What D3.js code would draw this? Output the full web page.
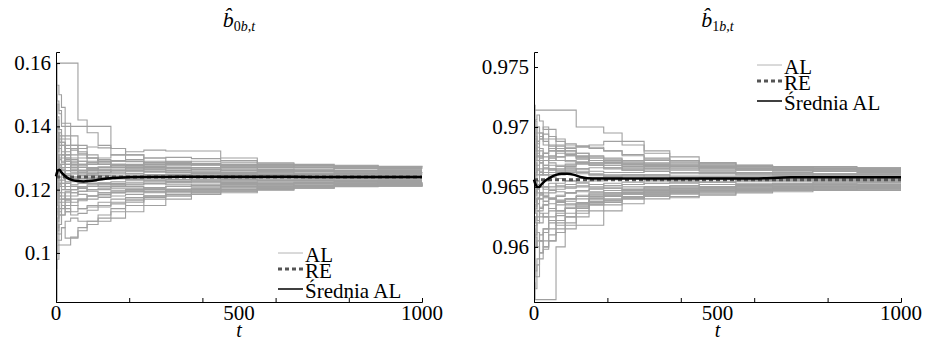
<!DOCTYPE html>
<html>
<head>
<meta charset="utf-8">
<script src="https://cdn.jsdelivr.net/npm/d3@7"></script>
<style>
  body { margin: 0; background: #fff; }
</style>
</head>
<body>
<div class="visHolder"></div>
<script>
var tSteps = [0, 3, 8, 15, 25, 40, 60, 85, 115, 150, 190, 240, 300, 370, 450, 550, 650, 760, 880, 1000];
// time points of the AL average
var tMean = [0, 3, 6, 10, 14, 20, 30, 45, 60, 75, 90, 110, 130, 160, 200, 300, 400, 500, 600, 700, 800, 900, 1000];

var xTicks = [0, 200, 400, 600, 800, 1000];
var xTickLabels = [0, 500, 1000];
var legendLabels = ['AL', 'RE', 'Średnia AL'];

// ---- b0 panel ----
var b0Ticks = [0.1, 0.12, 0.14, 0.16];
var b0TickLabels = ['0.1', '0.12', '0.14', '0.16'];
var b0Domain = [0.0845, 0.1635];
var b0RE = 0.1240;
var b0Mean = [0.1242, 0.1255, 0.1262, 0.1263, 0.1256, 0.1248, 0.1238, 0.1230, 0.1227, 0.1226, 0.1227, 0.1230, 0.1234, 0.1237, 0.1239, 0.1240, 0.1241, 0.1241, 0.1241, 0.1240, 0.1240, 0.1240, 0.1240];
var b0Paths = [
  [0.135, 0.160, 0.160, 0.160, 0.160, 0.160, 0.142, 0.138, 0.134, 0.131, 0.129, 0.128, 0.127, 0.127, 0.126, 0.126, 0.1265, 0.126, 0.1262, 0.1262],
  [0.153, 0.153, 0.150, 0.146, 0.141, 0.137, 0.134, 0.131, 0.129, 0.128, 0.127, 0.1265, 0.126, 0.1258, 0.1255, 0.1255, 0.125, 0.1252, 0.125, 0.1251],
  [0.150, 0.148, 0.144, 0.140, 0.140, 0.140, 0.140, 0.140, 0.140, 0.133, 0.131, 0.130, 0.129, 0.128, 0.127, 0.1265, 0.126, 0.1262, 0.126, 0.126],
  [0.145, 0.140, 0.137, 0.135, 0.133, 0.131, 0.130, 0.129, 0.130, 0.131, 0.132, 0.1325, 0.1322, 0.1322, 0.130, 0.128, 0.1275, 0.1272, 0.127, 0.1272],
  [0.140, 0.138, 0.136, 0.134, 0.132, 0.130, 0.129, 0.128, 0.128, 0.127, 0.1275, 0.1285, 0.1285, 0.1283, 0.128, 0.1275, 0.127, 0.1268, 0.1265, 0.1265],
  [0.138, 0.142, 0.139, 0.135, 0.131, 0.128, 0.127, 0.126, 0.1262, 0.1265, 0.127, 0.1275, 0.127, 0.1265, 0.1262, 0.126, 0.1258, 0.1256, 0.1255, 0.1255],
  [0.132, 0.136, 0.134, 0.131, 0.129, 0.127, 0.126, 0.1255, 0.125, 0.125, 0.1252, 0.1255, 0.1253, 0.125, 0.125, 0.1248, 0.1248, 0.1246, 0.1245, 0.1245],
  [0.130, 0.128, 0.131, 0.129, 0.127, 0.126, 0.125, 0.1245, 0.1245, 0.1243, 0.1245, 0.1247, 0.1245, 0.1243, 0.1243, 0.1242, 0.1242, 0.1241, 0.1241, 0.1241],
  [0.126, 0.129, 0.127, 0.1265, 0.125, 0.124, 0.1235, 0.1237, 0.124, 0.1242, 0.124, 0.1238, 0.1238, 0.1237, 0.1237, 0.1238, 0.1237, 0.1237, 0.1237, 0.1237],
  [0.122, 0.125, 0.128, 0.126, 0.124, 0.123, 0.1225, 0.123, 0.1232, 0.1235, 0.1233, 0.123, 0.1232, 0.1233, 0.1235, 0.1234, 0.1233, 0.1234, 0.1233, 0.1233],
  [0.118, 0.121, 0.124, 0.122, 0.121, 0.1215, 0.122, 0.122, 0.1222, 0.1225, 0.1228, 0.1225, 0.1226, 0.1227, 0.1228, 0.1229, 0.1229, 0.123, 0.123, 0.123],
  [0.115, 0.117, 0.119, 0.121, 0.120, 0.119, 0.1195, 0.120, 0.1205, 0.121, 0.1215, 0.122, 0.1222, 0.1222, 0.1223, 0.1225, 0.1225, 0.1226, 0.1226, 0.1226],
  [0.112, 0.114, 0.116, 0.115, 0.116, 0.117, 0.117, 0.118, 0.118, 0.119, 0.120, 0.1205, 0.121, 0.1212, 0.1215, 0.122, 0.1218, 0.122, 0.122, 0.1222],
  [0.108, 0.111, 0.113, 0.115, 0.114, 0.113, 0.114, 0.115, 0.116, 0.117, 0.1175, 0.118, 0.119, 0.1195, 0.120, 0.1205, 0.121, 0.1212, 0.1215, 0.1216],
  [0.105, 0.104, 0.106, 0.108, 0.110, 0.111, 0.110, 0.110, 0.111, 0.113, 0.115, 0.117, 0.118, 0.119, 0.120, 0.1205, 0.121, 0.1212, 0.1215, 0.1218],
  [0.100, 0.1025, 0.1025, 0.1025, 0.1025, 0.105, 0.107, 0.109, 0.110, 0.111, 0.113, 0.115, 0.117, 0.1185, 0.1195, 0.1205, 0.1212, 0.1215, 0.1218, 0.122],
  [0.085, 0.098, 0.104, 0.108, 0.1047, 0.1047, 0.108, 0.110, 0.112, 0.114, 0.116, 0.118, 0.1195, 0.120, 0.121, 0.1215, 0.122, 0.1222, 0.1223, 0.1224],
  [0.095, 0.108, 0.112, 0.117, 0.119, 0.120, 0.1205, 0.121, 0.121, 0.1205, 0.1205, 0.1207, 0.121, 0.1213, 0.1215, 0.1218, 0.122, 0.1222, 0.1225, 0.1225],
  [0.128, 0.132, 0.135, 0.137, 0.136, 0.134, 0.132, 0.130, 0.129, 0.128, 0.1275, 0.127, 0.1268, 0.1265, 0.1262, 0.126, 0.1258, 0.1258, 0.1257, 0.1257],
  [0.124, 0.121, 0.118, 0.116, 0.118, 0.120, 0.121, 0.1215, 0.122, 0.1215, 0.121, 0.1205, 0.121, 0.1212, 0.1215, 0.1215, 0.1212, 0.1215, 0.1217, 0.1217],
  [0.135, 0.131, 0.128, 0.125, 0.127, 0.129, 0.128, 0.1285, 0.129, 0.1292, 0.129, 0.1285, 0.128, 0.1278, 0.1275, 0.1272, 0.127, 0.1268, 0.1268, 0.1268],
  [0.120, 0.123, 0.121, 0.119, 0.117, 0.115, 0.114, 0.1145, 0.115, 0.116, 0.117, 0.118, 0.1185, 0.119, 0.1195, 0.120, 0.1205, 0.121, 0.1212, 0.1214],
  [0.142, 0.147, 0.145, 0.141, 0.137, 0.134, 0.133, 0.1335, 0.1332, 0.133, 0.131, 0.129, 0.1285, 0.128, 0.1275, 0.127, 0.127, 0.1268, 0.1266, 0.1266],
  [0.110, 0.113, 0.118, 0.120, 0.122, 0.123, 0.124, 0.125, 0.1255, 0.126, 0.126, 0.1258, 0.1255, 0.1253, 0.125, 0.125, 0.1248, 0.1247, 0.1247, 0.1247],
  [0.127, 0.124, 0.126, 0.128, 0.130, 0.1295, 0.128, 0.127, 0.1265, 0.126, 0.1258, 0.1258, 0.126, 0.1262, 0.126, 0.1258, 0.1256, 0.1255, 0.1254, 0.1253],
  [0.117, 0.119, 0.122, 0.124, 0.1225, 0.121, 0.1205, 0.1195, 0.119, 0.119, 0.1193, 0.1195, 0.120, 0.1205, 0.121, 0.1212, 0.1215, 0.1217, 0.1218, 0.122],
  [0.132, 0.126, 0.123, 0.121, 0.122, 0.124, 0.1255, 0.126, 0.127, 0.1275, 0.1278, 0.128, 0.1282, 0.128, 0.1278, 0.1275, 0.1272, 0.1272, 0.127, 0.127],
  [0.103, 0.107, 0.109, 0.112, 0.113, 0.115, 0.117, 0.118, 0.119, 0.1195, 0.1198, 0.120, 0.1202, 0.1205, 0.1208, 0.121, 0.1212, 0.1214, 0.1216, 0.1218],
  [0.129, 0.127, 0.1295, 0.131, 0.129, 0.1275, 0.127, 0.1265, 0.126, 0.1255, 0.125, 0.1248, 0.1246, 0.1245, 0.1246, 0.1245, 0.1244, 0.1244, 0.1243, 0.1243],
  [0.121, 0.119, 0.1215, 0.123, 0.1245, 0.1235, 0.1225, 0.122, 0.1218, 0.1215, 0.1218, 0.122, 0.1222, 0.1225, 0.1227, 0.1228, 0.1228, 0.1229, 0.1229, 0.1229],
  [0.137, 0.133, 0.130, 0.1285, 0.131, 0.133, 0.1315, 0.130, 0.1295, 0.129, 0.1288, 0.1285, 0.1283, 0.1282, 0.128, 0.1278, 0.1276, 0.1274, 0.1273, 0.1273],
  [0.113, 0.116, 0.119, 0.118, 0.1195, 0.121, 0.1205, 0.121, 0.1215, 0.122, 0.1222, 0.1218, 0.1215, 0.1217, 0.122, 0.1222, 0.1223, 0.1224, 0.1224, 0.1224],
  [0.147, 0.143, 0.139, 0.136, 0.134, 0.1325, 0.131, 0.130, 0.128, 0.127, 0.126, 0.1258, 0.1256, 0.1255, 0.1254, 0.1253, 0.1252, 0.1251, 0.1251, 0.1251],
  [0.125, 0.127, 0.124, 0.122, 0.1235, 0.125, 0.126, 0.1268, 0.1272, 0.127, 0.1266, 0.1263, 0.1262, 0.1264, 0.1266, 0.1264, 0.1262, 0.126, 0.1259, 0.1259],
  [0.107, 0.110, 0.114, 0.117, 0.1165, 0.116, 0.1165, 0.117, 0.1175, 0.118, 0.1185, 0.119, 0.1195, 0.1198, 0.120, 0.1205, 0.1208, 0.121, 0.1212, 0.1213],
  [0.131, 0.135, 0.138, 0.134, 0.130, 0.127, 0.1255, 0.125, 0.1255, 0.126, 0.1265, 0.1268, 0.1266, 0.1263, 0.126, 0.1258, 0.1257, 0.1256, 0.1256, 0.1256],
  [0.119, 0.115, 0.112, 0.114, 0.117, 0.119, 0.1185, 0.118, 0.1185, 0.119, 0.1195, 0.120, 0.1198, 0.1195, 0.1198, 0.1202, 0.1206, 0.1209, 0.1211, 0.1212],
  [0.139, 0.136, 0.133, 0.130, 0.128, 0.1265, 0.1262, 0.1265, 0.127, 0.1275, 0.128, 0.1285, 0.1288, 0.129, 0.1287, 0.1282, 0.1278, 0.1275, 0.1273, 0.1272],
  [0.123, 0.120, 0.122, 0.1245, 0.126, 0.1255, 0.1245, 0.124, 0.1238, 0.124, 0.1243, 0.1245, 0.1248, 0.125, 0.1249, 0.1248, 0.1247, 0.1246, 0.1246, 0.1246],
  [0.116, 0.120, 0.117, 0.115, 0.113, 0.112, 0.1125, 0.1135, 0.1145, 0.1155, 0.1165, 0.1175, 0.118, 0.1185, 0.119, 0.1198, 0.1205, 0.121, 0.1213, 0.1215],
  [0.144, 0.138, 0.135, 0.132, 0.1295, 0.128, 0.1275, 0.128, 0.1285, 0.129, 0.1295, 0.130, 0.1302, 0.1298, 0.1292, 0.1285, 0.128, 0.1277, 0.1274, 0.1272],
  [0.127, 0.130, 0.1275, 0.125, 0.1235, 0.1225, 0.123, 0.1235, 0.1238, 0.1235, 0.1232, 0.123, 0.1228, 0.123, 0.1232, 0.1233, 0.1234, 0.1235, 0.1235, 0.1235],
  [0.111, 0.106, 0.109, 0.112, 0.115, 0.118, 0.1195, 0.120, 0.120, 0.1198, 0.1195, 0.1193, 0.1195, 0.120, 0.1205, 0.1208, 0.121, 0.1212, 0.1214, 0.1215],
  [0.134, 0.129, 0.126, 0.127, 0.128, 0.1285, 0.129, 0.1285, 0.128, 0.1278, 0.1275, 0.1273, 0.1275, 0.1277, 0.1274, 0.1271, 0.1269, 0.1267, 0.1266, 0.1265]
];

// ---- b1 panel ----
var b1Ticks = [0.96, 0.965, 0.97, 0.975];
var b1TickLabels = ['0.96', '0.965', '0.97', '0.975'];
var b1Domain = [0.9554, 0.97625];
var b1RE = 0.9656;
var b1Mean = [0.9656, 0.9653, 0.9651, 0.9650, 0.9650, 0.9652, 0.9655, 0.9658, 0.9660, 0.9661, 0.9661, 0.9660, 0.9658, 0.9657, 0.9657, 0.9657, 0.9657, 0.9657, 0.9657, 0.9658, 0.9658, 0.9658, 0.9658];
var b1Paths = [
  [0.9600, 0.9556, 0.9556, 0.9556, 0.9556, 0.9556, 0.9600, 0.9615, 0.9625, 0.9630, 0.9635, 0.9640, 0.9643, 0.9645, 0.9647, 0.9648, 0.9649, 0.9650, 0.9650, 0.9650],
  [0.9718, 0.9705, 0.9700, 0.9695, 0.9690, 0.9685, 0.9680, 0.9678, 0.9675, 0.9672, 0.9670, 0.9668, 0.9667, 0.9666, 0.9665, 0.9664, 0.9664, 0.9663, 0.9663, 0.9663],
  [0.9714, 0.9714, 0.9714, 0.9714, 0.9714, 0.9714, 0.9714, 0.9714, 0.9700, 0.9700, 0.9695, 0.9688, 0.9680, 0.9675, 0.9670, 0.9668, 0.9666, 0.9665, 0.9665, 0.9665],
  [0.9690, 0.9700, 0.9695, 0.9690, 0.9700, 0.9698, 0.9690, 0.9685, 0.9683, 0.9685, 0.9688, 0.9685, 0.9678, 0.9672, 0.9670, 0.9668, 0.9667, 0.9667, 0.9666, 0.9666],
  [0.9680, 0.9685, 0.9680, 0.9675, 0.9678, 0.9680, 0.9682, 0.9680, 0.9675, 0.9672, 0.9670, 0.9672, 0.9673, 0.9672, 0.9670, 0.9667, 0.9666, 0.9665, 0.9664, 0.9664],
  [0.9670, 0.9675, 0.9678, 0.9680, 0.9675, 0.9670, 0.9668, 0.9668, 0.9670, 0.9668, 0.9666, 0.9665, 0.9666, 0.9667, 0.9666, 0.9665, 0.9664, 0.9663, 0.9662, 0.9662],
  [0.9660, 0.9668, 0.9672, 0.9670, 0.9666, 0.9664, 0.9665, 0.9666, 0.9665, 0.9663, 0.9662, 0.9662, 0.9663, 0.9662, 0.9661, 0.9661, 0.9660, 0.9660, 0.9660, 0.9660],
  [0.9655, 0.9660, 0.9665, 0.9662, 0.9660, 0.9658, 0.9660, 0.9662, 0.9661, 0.9660, 0.9659, 0.9659, 0.9660, 0.9659, 0.9659, 0.9659, 0.9659, 0.9658, 0.9658, 0.9658],
  [0.9650, 0.9655, 0.9652, 0.9650, 0.9655, 0.9658, 0.9657, 0.9655, 0.9654, 0.9655, 0.9656, 0.9657, 0.9656, 0.9656, 0.9657, 0.9656, 0.9656, 0.9656, 0.9656, 0.9656],
  [0.9645, 0.9648, 0.9650, 0.9652, 0.9650, 0.9648, 0.9650, 0.9652, 0.9653, 0.9652, 0.9651, 0.9652, 0.9653, 0.9654, 0.9654, 0.9655, 0.9655, 0.9655, 0.9655, 0.9655],
  [0.9640, 0.9635, 0.9640, 0.9643, 0.9645, 0.9647, 0.9646, 0.9645, 0.9647, 0.9648, 0.9649, 0.9650, 0.9650, 0.9651, 0.9652, 0.9652, 0.9653, 0.9653, 0.9653, 0.9653],
  [0.9630, 0.9632, 0.9636, 0.9640, 0.9638, 0.9636, 0.9638, 0.9640, 0.9642, 0.9643, 0.9644, 0.9645, 0.9646, 0.9647, 0.9648, 0.9649, 0.9650, 0.9650, 0.9651, 0.9651],
  [0.9620, 0.9625, 0.9630, 0.9628, 0.9625, 0.9622, 0.9618, 0.9618, 0.9618, 0.9618, 0.9630, 0.9636, 0.9640, 0.9642, 0.9644, 0.9646, 0.9647, 0.9648, 0.9649, 0.9649],
  [0.9610, 0.9600, 0.9605, 0.9610, 0.9615, 0.9625, 0.9630, 0.9635, 0.9636, 0.9637, 0.9639, 0.9641, 0.9643, 0.9645, 0.9646, 0.9647, 0.9648, 0.9648, 0.9649, 0.9649],
  [0.9590, 0.9580, 0.9585, 0.9595, 0.9605, 0.9615, 0.9622, 0.9628, 0.9632, 0.9636, 0.9638, 0.9641, 0.9644, 0.9646, 0.9647, 0.9648, 0.9649, 0.9650, 0.9650, 0.9650],
  [0.9570, 0.9565, 0.9575, 0.9590, 0.9600, 0.9610, 0.9620, 0.9625, 0.9630, 0.9640, 0.9645, 0.9647, 0.9648, 0.9649, 0.9650, 0.9651, 0.9652, 0.9652, 0.9652, 0.9652],
  [0.9665, 0.9690, 0.9700, 0.9695, 0.9685, 0.9680, 0.9675, 0.9672, 0.9670, 0.9668, 0.9666, 0.9664, 0.9663, 0.9662, 0.9662, 0.9661, 0.9661, 0.9660, 0.9660, 0.9660],
  [0.9660, 0.9650, 0.9645, 0.9640, 0.9642, 0.9645, 0.9648, 0.9650, 0.9651, 0.9650, 0.9649, 0.9648, 0.9648, 0.9649, 0.9650, 0.9651, 0.9652, 0.9653, 0.9654, 0.9654],
  [0.9675, 0.9665, 0.9660, 0.9663, 0.9668, 0.9672, 0.9675, 0.9676, 0.9676, 0.9675, 0.9673, 0.9670, 0.9668, 0.9667, 0.9666, 0.9665, 0.9664, 0.9664, 0.9664, 0.9664],
  [0.9640, 0.9645, 0.9655, 0.9660, 0.9665, 0.9668, 0.9667, 0.9665, 0.9663, 0.9661, 0.9660, 0.9660, 0.9659, 0.9658, 0.9658, 0.9657, 0.9657, 0.9657, 0.9657, 0.9657],
  [0.9600, 0.9610, 0.9620, 0.9630, 0.9635, 0.9632, 0.9630, 0.9632, 0.9635, 0.9638, 0.9640, 0.9642, 0.9642, 0.9641, 0.9643, 0.9645, 0.9646, 0.9647, 0.9648, 0.9648],
  [0.9685, 0.9680, 0.9672, 0.9665, 0.9660, 0.9662, 0.9664, 0.9667, 0.9669, 0.9670, 0.9670, 0.9669, 0.9668, 0.9668, 0.9667, 0.9666, 0.9665, 0.9665, 0.9664, 0.9664],
  [0.9650, 0.9640, 0.9630, 0.9625, 0.9628, 0.9632, 0.9637, 0.9640, 0.9643, 0.9645, 0.9647, 0.9648, 0.9650, 0.9651, 0.9652, 0.9653, 0.9653, 0.9654, 0.9654, 0.9654],
  [0.9705, 0.9695, 0.9688, 0.9682, 0.9678, 0.9674, 0.9672, 0.9671, 0.9670, 0.9669, 0.9668, 0.9667, 0.9665, 0.9664, 0.9663, 0.9662, 0.9662, 0.9661, 0.9661, 0.9661],
  [0.9635, 0.9628, 0.9622, 0.9620, 0.9625, 0.9630, 0.9635, 0.9638, 0.9640, 0.9642, 0.9643, 0.9644, 0.9645, 0.9646, 0.9647, 0.9648, 0.9649, 0.9649, 0.9650, 0.9650],
  [0.9665, 0.9660, 0.9655, 0.9650, 0.9648, 0.9650, 0.9653, 0.9655, 0.9657, 0.9658, 0.9659, 0.9660, 0.9660, 0.9661, 0.9661, 0.9660, 0.9660, 0.9659, 0.9659, 0.9659],
  [0.9585, 0.9600, 0.9612, 0.9605, 0.9600, 0.9605, 0.9615, 0.9625, 0.9633, 0.9638, 0.9642, 0.9645, 0.9647, 0.9648, 0.9649, 0.9650, 0.9651, 0.9651, 0.9651, 0.9651],
  [0.9695, 0.9690, 0.9683, 0.9676, 0.9672, 0.9676, 0.9680, 0.9683, 0.9684, 0.9683, 0.9680, 0.9676, 0.9672, 0.9670, 0.9668, 0.9667, 0.9666, 0.9666, 0.9665, 0.9665],
  [0.9668, 0.9672, 0.9676, 0.9672, 0.9668, 0.9665, 0.9663, 0.9664, 0.9665, 0.9666, 0.9665, 0.9664, 0.9663, 0.9662, 0.9662, 0.9662, 0.9661, 0.9661, 0.9661, 0.9661],
  [0.9645, 0.9640, 0.9636, 0.9632, 0.9635, 0.9640, 0.9643, 0.9645, 0.9646, 0.9646, 0.9647, 0.9648, 0.9649, 0.9650, 0.9650, 0.9651, 0.9651, 0.9652, 0.9652, 0.9652],
  [0.9700, 0.9692, 0.9686, 0.9690, 0.9694, 0.9690, 0.9685, 0.9680, 0.9678, 0.9676, 0.9674, 0.9672, 0.9670, 0.9669, 0.9668, 0.9667, 0.9666, 0.9665, 0.9665, 0.9665],
  [0.9625, 0.9620, 0.9612, 0.9605, 0.9612, 0.9620, 0.9626, 0.9632, 0.9636, 0.9640, 0.9642, 0.9644, 0.9645, 0.9646, 0.9647, 0.9647, 0.9648, 0.9648, 0.9648, 0.9648],
  [0.9658, 0.9662, 0.9668, 0.9674, 0.9678, 0.9682, 0.9684, 0.9682, 0.9678, 0.9674, 0.9671, 0.9669, 0.9668, 0.9667, 0.9666, 0.9665, 0.9664, 0.9663, 0.9663, 0.9663],
  [0.9652, 0.9646, 0.9641, 0.9645, 0.9650, 0.9653, 0.9651, 0.9649, 0.9650, 0.9652, 0.9653, 0.9654, 0.9655, 0.9655, 0.9656, 0.9656, 0.9656, 0.9656, 0.9656, 0.9656],
  [0.9610, 0.9618, 0.9625, 0.9633, 0.9638, 0.9641, 0.9639, 0.9636, 0.9634, 0.9635, 0.9637, 0.9640, 0.9642, 0.9644, 0.9645, 0.9646, 0.9647, 0.9647, 0.9647, 0.9647],
  [0.9690, 0.9682, 0.9675, 0.9670, 0.9672, 0.9675, 0.9678, 0.9676, 0.9673, 0.9670, 0.9668, 0.9666, 0.9665, 0.9665, 0.9664, 0.9664, 0.9663, 0.9663, 0.9663, 0.9663],
  [0.9580, 0.9575, 0.9590, 0.9605, 0.9615, 0.9622, 0.9628, 0.9633, 0.9637, 0.9641, 0.9643, 0.9645, 0.9646, 0.9647, 0.9648, 0.9649, 0.9650, 0.9650, 0.9650, 0.9650],
  [0.9672, 0.9680, 0.9688, 0.9692, 0.9688, 0.9684, 0.9680, 0.9677, 0.9674, 0.9672, 0.9670, 0.9669, 0.9669, 0.9668, 0.9667, 0.9666, 0.9665, 0.9665, 0.9664, 0.9664],
  [0.9637, 0.9643, 0.9648, 0.9652, 0.9656, 0.9660, 0.9662, 0.9663, 0.9662, 0.9660, 0.9658, 0.9657, 0.9657, 0.9657, 0.9658, 0.9658, 0.9658, 0.9658, 0.9658, 0.9658],
  [0.9615, 0.9608, 0.9600, 0.9595, 0.9598, 0.9605, 0.9612, 0.9620, 0.9628, 0.9635, 0.9639, 0.9642, 0.9644, 0.9645, 0.9646, 0.9647, 0.9648, 0.9649, 0.9649, 0.9649],
  [0.9662, 0.9655, 0.9648, 0.9644, 0.9641, 0.9640, 0.9642, 0.9645, 0.9647, 0.9649, 0.9651, 0.9652, 0.9653, 0.9653, 0.9654, 0.9655, 0.9655, 0.9655, 0.9655, 0.9655],
  [0.9698, 0.9706, 0.9710, 0.9705, 0.9698, 0.9692, 0.9688, 0.9686, 0.9684, 0.9682, 0.9680, 0.9677, 0.9674, 0.9671, 0.9669, 0.9668, 0.9667, 0.9666, 0.9666, 0.9666],
  [0.9628, 0.9634, 0.9640, 0.9645, 0.9643, 0.9640, 0.9638, 0.9640, 0.9642, 0.9644, 0.9645, 0.9646, 0.9647, 0.9648, 0.9649, 0.9650, 0.9650, 0.9651, 0.9651, 0.9651],
  [0.9678, 0.9670, 0.9664, 0.9660, 0.9662, 0.9665, 0.9667, 0.9669, 0.9671, 0.9672, 0.9672, 0.9671, 0.9669, 0.9667, 0.9666, 0.9665, 0.9664, 0.9663, 0.9663, 0.9663]
];

var fontStack = "'Liberation Serif', 'Times New Roman', Tinos, 'DejaVu Serif', 'Noto Serif', FreeSerif, serif";

var svg = d3.select('.visHolder')
    .append('svg')
    .attr('width', 926)
    .attr('height', 340)
    .style('font-family', fontStack);

function drawPanel(p) {
    var x = d3.scaleLinear().domain([0, 1000]).range([p.left, p.right]);
    var y = d3.scaleLinear().domain(p.domain).range([302, 52]);

    var step = d3.line()
        .x(function (d, i) { return x(tSteps[i]); })
        .y(function (d) { return y(d); })
        .curve(d3.curveStepAfter);

    svg.append('g')
        .selectAll('path')
        .data(p.paths)
        .enter()
        .append('path')
        .attr('d', step)
        .attr('fill', 'none')
        .attr('stroke', '#a0a0a0')
        .attr('stroke-width', 1.1);

    // rational expectations value
    svg.append('path')
        .attr('d', d3.line()([[x(0), y(p.re)], [x(1000), y(p.re)]]))
        .attr('stroke', '#555')
        .attr('stroke-width', 3)
        .attr('stroke-dasharray', '4,3');

    var meanLine = d3.line()
        .x(function (d, i) { return x(tMean[i]); })
        .y(function (d) { return y(d); })
        .curve(d3.curveMonotoneX);

    svg.append('path')
        .attr('d', meanLine(p.mean))
        .attr('fill', 'none')
        .attr('stroke', '#000')
        .attr('stroke-width', 2.5);

    // axes: ticks point inward, labels placed by hand like the original
    var xAxis = d3.axisTop(x).tickValues(xTicks).tickSize(4).tickFormat('');
    svg.append('g')
        .attr('transform', 'translate(0,302)')
        .call(xAxis)
        .call(function (g) { g.selectAll('path,line').attr('stroke', '#000'); });

    var yAxis = d3.axisRight(y).tickValues(p.ticks).tickSize(4).tickFormat('');
    svg.append('g')
        .attr('transform', 'translate(' + p.left + ',0)')
        .call(yAxis)
        .call(function (g) { g.selectAll('path,line').attr('stroke', '#000'); });

    svg.append('g')
        .selectAll('text')
        .data(xTickLabels)
        .enter()
        .append('text')
        .attr('x', function (d) { return x(d); })
        .attr('y', 320)
        .attr('text-anchor', 'middle')
        .style('font-family', fontStack)
        .style('font-size', '21px')
        .text(function (d) { return d; });

    svg.append('g')
        .selectAll('text')
        .data(p.ticks)
        .enter()
        .append('text')
        .attr('x', p.left - 5)
        .attr('y', function (d) { return y(d) + 7; })
        .attr('text-anchor', 'end')
        .style('font-family', fontStack)
        .style('font-size', '21px')
        .text(function (d, i) { return p.tickLabels[i]; });

    svg.append('text')
        .attr('x', (p.left + p.right) / 2)
        .attr('y', 337)
        .attr('text-anchor', 'middle')
        .style('font-family', fontStack)
        .style('font-size', '20px')
        .style('font-style', 'italic')
        .text('t');

    // title b-hat with subscript
    var title = svg.append('text')
        .attr('x', (p.left + p.right) / 2)
        .attr('y', 27)
        .attr('text-anchor', 'middle')
        .style('font-family', fontStack)
        .style('font-size', '22px');
    title.append('tspan').style('font-style', 'italic').text('b\u0302');
    title.append('tspan').attr('dy', 4).style('font-size', '14px').text(p.sub);
    title.append('tspan').style('font-size', '14px').style('font-style', 'italic').text('b');
    title.append('tspan').style('font-size', '14px').text(',');
    title.append('tspan').style('font-size', '14px').style('font-style', 'italic').text('t');

    // legend
    var lg = svg.append('g').attr('transform', 'translate(' + p.legX + ',' + p.legY + ')');
    var rowY = [0, 16, 36];
    var styles = [
        { stroke: '#b4b4b4', width: 1, dash: null },
        { stroke: '#555', width: 3, dash: '4,3' },
        { stroke: '#000', width: 1.5, dash: null }
    ];
    legendLabels.forEach(function (lab, i) {
        lg.append('line')
            .attr('x1', 0).attr('x2', 25)
            .attr('y1', rowY[i]).attr('y2', rowY[i])
            .attr('stroke', styles[i].stroke)
            .attr('stroke-width', styles[i].width)
            .attr('stroke-dasharray', styles[i].dash);
        lg.append('text')
            .attr('x', 27)
            .attr('y', rowY[i] + 9)
            .style('font-family', fontStack)
            .style('font-size', '21px')
            .text(lab);
    });
}

drawPanel({ left: 56, right: 422, domain: b0Domain, ticks: b0Ticks, tickLabels: b0TickLabels,
    paths: b0Paths, mean: b0Mean, re: b0RE, sub: '0', legX: 278, legY: 253 });
drawPanel({ left: 534, right: 901, domain: b1Domain, ticks: b1Ticks, tickLabels: b1TickLabels,
    paths: b1Paths, mean: b1Mean, re: b1RE, sub: '1', legX: 757, legY: 65 });
</script>
</body>
</html>
